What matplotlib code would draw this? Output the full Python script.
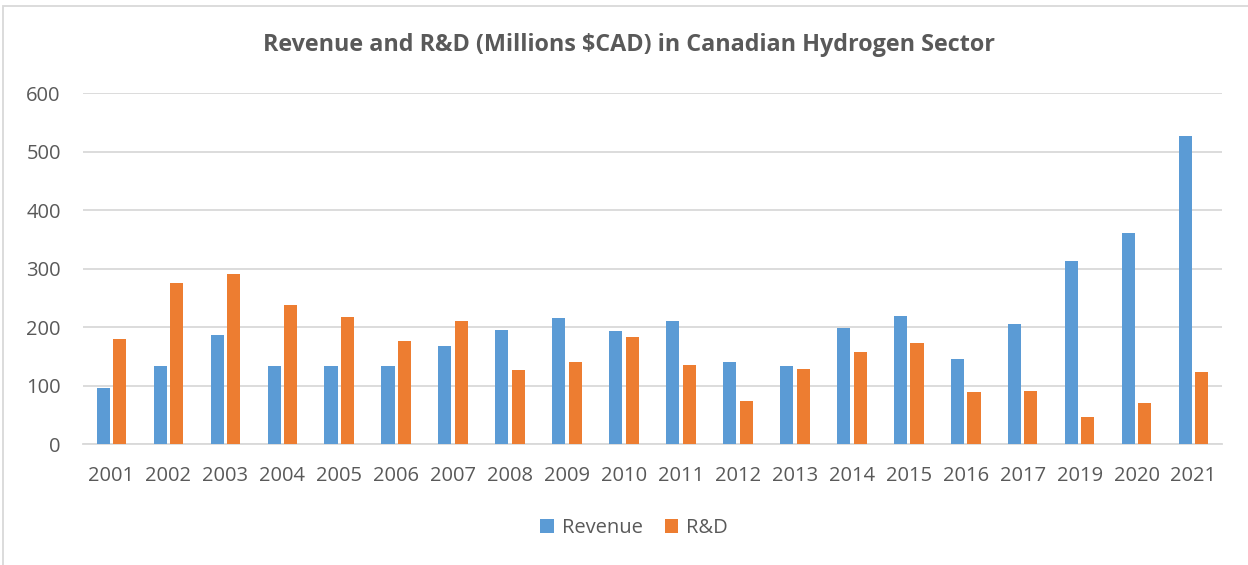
import matplotlib
matplotlib.use("Agg")
import matplotlib.pyplot as plt
import numpy as np
from matplotlib.patches import Rectangle

years = ["2001", "2002", "2003", "2004", "2005", "2006", "2007", "2008", "2009", "2010",
         "2011", "2012", "2013", "2014", "2015", "2016", "2017", "2019", "2020", "2021"]
revenue = [96, 133, 187, 133, 134, 133, 167, 195, 215, 193,
           210, 141, 133, 198, 219, 145, 206, 313, 361, 527]
rnd = [179, 276, 290, 237, 217, 176, 210, 127, 141, 183,
       135, 74, 129, 157, 172, 89, 90, 47, 71, 124]
yticks = [0, 100, 200, 300, 400, 500, 600]

plt.rcParams['font.family'] = ['Open Sans', 'DejaVu Sans']
text_color = '#595959'

W, H = 1248, 565
fig = plt.figure(figsize=(W / 100, H / 100), dpi=100)
ax = fig.add_axes([83 / W, 1 - 444 / H, (1222 - 83) / W, (444 - 93.3) / H])

x = np.arange(len(years))
bw = 0.23
off = 0.145
ax.bar(x - off, revenue, width=bw, color='#5B9BD5', label='Revenue', zorder=3)
ax.bar(x + off, rnd, width=bw, color='#ED7D31', label='R&D', zorder=3)

ax.set_xlim(-0.5, len(years) - 0.5)
ax.set_ylim(0, 600)
ax.set_yticks(yticks)
ax.set_yticklabels([str(v) for v in yticks])
ax.set_xticks(x)
ax.set_xticklabels(years)
ax.grid(axis='y', color='#D9D9D9', linewidth=1.3, zorder=0)
ax.set_axisbelow(True)
for s in ['top', 'right', 'left']:
    ax.spines[s].set_visible(False)
ax.spines['bottom'].set_color('#D9D9D9')
ax.spines['bottom'].set_linewidth(1.3)
ax.tick_params(axis='both', length=0, labelsize=14.5, colors=text_color)
ax.tick_params(axis='y', pad=16)
ax.tick_params(axis='x', pad=16)

fig.text(629 / W, 1 - 45 / H, 'Revenue and R&D (Millions $CAD) in Canadian Hydrogen Sector',
         ha='center', va='center', fontsize=16.8, fontweight='bold', color=text_color)

leg = fig.legend(loc='center', bbox_to_anchor=(634 / W, 1 - 528 / H), ncol=2, frameon=False,
                 fontsize=14.5, handlelength=0.65, handleheight=0.65, handletextpad=0.4,
                 columnspacing=1.1, labelcolor=text_color)

fig.patches.append(Rectangle((3 / W, -0.05), 1.2, 1.05 - 5.5 / H, transform=fig.transFigure,
                             fill=False, edgecolor='#D9D9D9', linewidth=1.3))

fig.savefig('out.png', dpi=100, facecolor='white')
